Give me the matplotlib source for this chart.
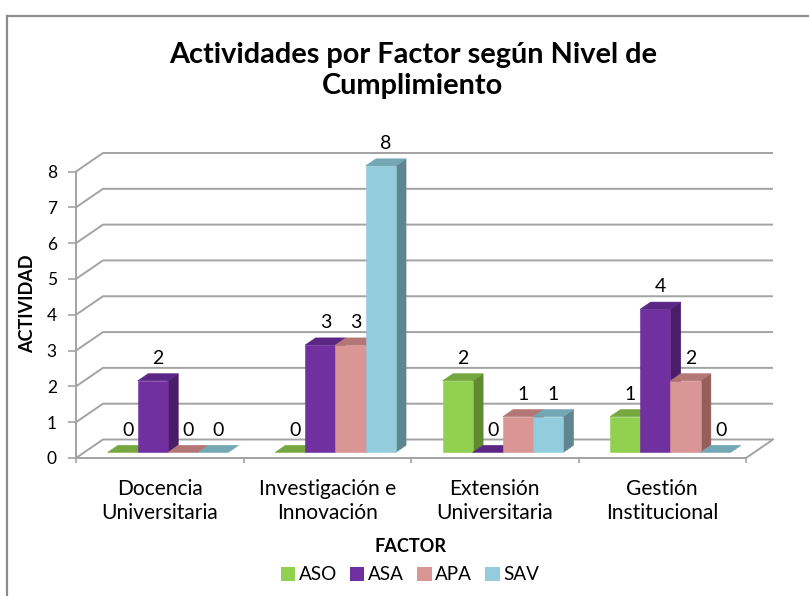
import numpy as np
import matplotlib
matplotlib.use('Agg')
import matplotlib.pyplot as plt
from matplotlib.patches import Polygon, Patch
from matplotlib.lines import Line2D

# ---------------- data ----------------
categories = ["Docencia\nUniversitaria", "Investigación e\nInnovación",
              "Extensión\nUniversitaria", "Gestión\nInstitucional"]
series = ["ASO", "ASA", "APA", "SAV"]
aso = [0, 0, 2, 1]
asa = [2, 3, 0, 4]
apa = [0, 3, 1, 2]
sav = [0, 8, 1, 0]
yticks = [0, 1, 2, 3, 4, 5, 6, 7, 8]
title = "Actividades por Factor según Nivel de\nCumplimiento"
ylabel = "ACTIVIDAD"
xlabel = "FACTOR"

front_colors = ['#92D050', '#7030A0', '#D99694', '#93CDDD']
top_colors = ['#76A840', '#5A2785', '#B37775', '#74A7B4']
side_colors = ['#5F8A31', '#4A1D69', '#935E5C', '#5E8590']
grid_color = '#A3A3A3'

plt.rcParams['font.family'] = ['Lato', 'DejaVu Sans']

W, H = 809, 596
fig = plt.figure(figsize=(W / 100, H / 100), dpi=100)
fig.patch.set_facecolor('white')
renderer = fig.canvas.get_renderer()


def fit(s, px, weight='normal'):
    t = fig.text(0, 0, s, fontsize=10, fontweight=weight)
    w = t.get_window_extent(renderer).width
    t.remove()
    return 10 * px / w


fs_title = fit("Actividades por Factor según Nivel de", 490, 'bold')
fs_cat = fit("Investigación e", 138)
fs_factor = fit("FACTOR", 72, 'bold')
fs_yl = fit("ACTIVIDAD", 98, 'bold')
fs_leg = fit("ASO", 38)

# ---------------- axes (front floor rectangle) ----------------
xl, xr, yb, yt = 76, 746, 458, 171.5
ax = fig.add_axes([xl / W, 1 - yb / H, (xr - xl) / W, (yb - yt) / H])
ncat = len(categories)
ax.set_xlim(0, ncat)
ax.set_ylim(0, yticks[-1])
ax.set_facecolor('none')

DX = 27 / ((xr - xl) / ncat)
DY = 18.5 / ((yb - yt) / yticks[-1])
lw = 1.4

for s in ['top', 'right']:
    ax.spines[s].set_visible(False)
for s in ['left', 'bottom']:
    ax.spines[s].set_color(grid_color)
    ax.spines[s].set_linewidth(lw)

# walls / gridlines
for v in yticks:
    ax.plot([0, DX, ncat + DX], [v, v + DY, v + DY], color=grid_color, lw=lw,
            clip_on=False, zorder=1, solid_capstyle='butt')
ax.plot([ncat, ncat + DX], [0, DY], color=grid_color, lw=lw, clip_on=False, zorder=1)

# ticks
ax.set_yticks(yticks)
ax.tick_params(axis='y', length=5.8, width=1.2, color=grid_color, pad=8, labelsize=12.5)
ax.set_xticks(np.arange(ncat + 1))
ax.set_xticklabels([])
ax.tick_params(axis='x', which='major', length=3.6, width=1.2, color=grid_color)
ax.set_xticks(np.arange(ncat) + 0.5, minor=True)
ax.set_xticklabels(categories, minor=True)
ax.tick_params(axis='x', which='minor', length=0, pad=15, labelsize=fs_cat)
for lbl in ax.get_xticklabels(minor=True):
    lbl.set_linespacing(1.25)

ax.set_ylabel(ylabel, fontsize=fs_yl, fontweight='bold')
ax.yaxis.set_label_coords((36 - xl) / (xr - xl), (yb - 304) / (yb - yt))
ax.set_xlabel(xlabel, fontsize=fs_factor, fontweight='bold')
ax.xaxis.set_label_coords(0.5, (yb - 538) / (yb - yt))

# ---------------- 3D bars ----------------
values = [aso, asa, apa, sav]
bw = 0.18
d0 = 0.3
dd = 0.385
d1 = d0 + dd


def P(x, y, d):
    return (x + d * DX, y + d * DY)


k = 0
for i in range(ncat):
    for j in range(len(series)):
        v = values[j][i]
        x0 = i + 0.5 - 2 * bw + j * bw
        z = 3 + k * 0.01
        if v > 0:
            side = [P(x0 + bw, 0, d0), P(x0 + bw, 0, d1), P(x0 + bw, v, d1), P(x0 + bw, v, d0)]
            front = [P(x0, 0, d0), P(x0 + bw, 0, d0), P(x0 + bw, v, d0), P(x0, v, d0)]
            ax.add_patch(Polygon(side, closed=True, fc=side_colors[j], ec=side_colors[j],
                                 lw=0.4, zorder=z, clip_on=False))
            ax.add_patch(Polygon(front, closed=True, fc=front_colors[j], ec=front_colors[j],
                                 lw=0.4, zorder=z + 0.001, clip_on=False))
        top = [P(x0, v, d0), P(x0 + bw, v, d0), P(x0 + bw, v, d1), P(x0, v, d1)]
        ax.add_patch(Polygon(top, closed=True, fc=top_colors[j], ec=top_colors[j],
                             lw=0.4, zorder=z + 0.002, clip_on=False))
        ax.annotate(str(v), xy=P(x0 + bw / 2, v, d0 + dd / 2), xytext=(0, 13.5),
                    textcoords='offset points', ha='center', va='center',
                    fontsize=14, zorder=10, annotation_clip=False)
        k += 1

# ---------------- title, legend, border ----------------
fig.text(413 / W, 1 - 70.5 / H, title, ha='center', va='center', fontsize=fs_title,
         fontweight='bold', linespacing=1.2)

handles = [Patch(facecolor=c, edgecolor='none', label=s) for c, s in zip(front_colors, series)]
fig.legend(handles=handles, loc='center', bbox_to_anchor=(410 / W, 1 - 575 / H), ncol=4,
           frameon=False, fontsize=fs_leg, handlelength=0.75, handleheight=0.75,
           handletextpad=0.2, columnspacing=0.7, borderaxespad=0)

bc = '#8C8C8C'
fig.add_artist(Line2D([7 / W, 7 / W], [0, 1 - 16 / H], transform=fig.transFigure, color=bc, lw=1.6))
fig.add_artist(Line2D([7 / W, 1], [1 - 16 / H, 1 - 16 / H], transform=fig.transFigure, color=bc, lw=1.6))

fig.savefig('out.png', dpi=100, facecolor='white')
